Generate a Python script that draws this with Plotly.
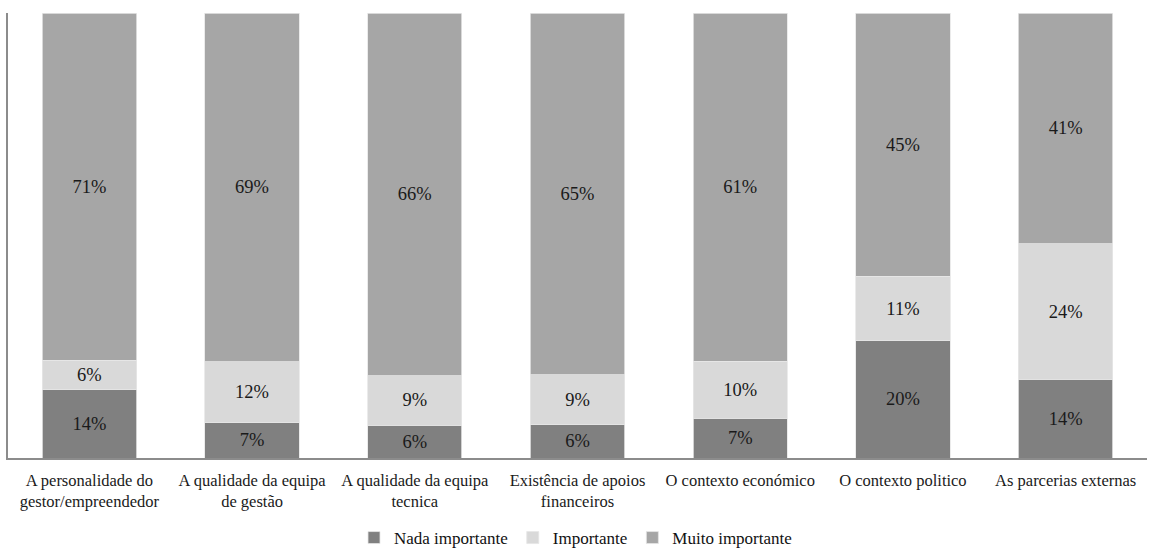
import plotly.graph_objects as go

categories = [
    "A personalidade do<br>gestor/empreendedor",
    "A qualidade da equipa<br>de gestão",
    "A qualidade da equipa<br>tecnica",
    "Existência de apoios<br>financeiros",
    "O contexto económico",
    "O contexto politico",
    "As parcerias externas",
]
nada = [14, 7, 6, 6, 7, 20, 14]
importante = [6, 12, 9, 9, 10, 11, 24]
muito = [71, 69, 66, 65, 61, 45, 41]

series = [
    ("Nada importante", nada, "#808080"),
    ("Importante", importante, "#D9D9D9"),
    ("Muito importante", muito, "#A6A6A6"),
]

SERIF = "Liberation Serif, Times New Roman, serif"

fig = go.Figure()
for name, vals, color in series:
    fig.add_trace(go.Bar(
        x=categories, y=vals, name=name,
        marker=dict(color=color, line=dict(color="#E6E6E6", width=0.8)),
        text=[f"{v}%" for v in vals],
        textposition="inside", insidetextanchor="middle",
        textfont=dict(family=SERIF, size=18.5, color="#1A1A1A"),
        constraintext="none",
        hoverinfo="skip",
    ))

fig.update_layout(
    barmode="stack", barnorm="percent", bargap=0.42,
    width=1151, height=556,
    margin=dict(l=8, r=4, t=13, b=98, autoexpand=False),
    plot_bgcolor="white", paper_bgcolor="white",
    font=dict(family=SERIF, size=16.5, color="#1A1A1A"),
    showlegend=True,
    legend=dict(orientation="h", x=0.5, xanchor="center", xref="container",
                y=-0.012, yanchor="bottom", yref="container",
                font=dict(family=SERIF, size=17, color="#111111"),
                traceorder="normal", itemwidth=30, tracegroupgap=0),
)
fig.update_xaxes(showline=True, linecolor="#8C8C8C", linewidth=1.5, ticks="",
                 automargin=False, ticklabelstandoff=6,
                 tickfont=dict(family=SERIF, size=16.5, color="#1A1A1A"))
fig.update_yaxes(showline=True, linecolor="#8C8C8C", linewidth=1.5, showgrid=False,
                 showticklabels=False, ticks="", range=[0, 100], zeroline=False,
                 automargin=False)

fig.write_html("out.html")
